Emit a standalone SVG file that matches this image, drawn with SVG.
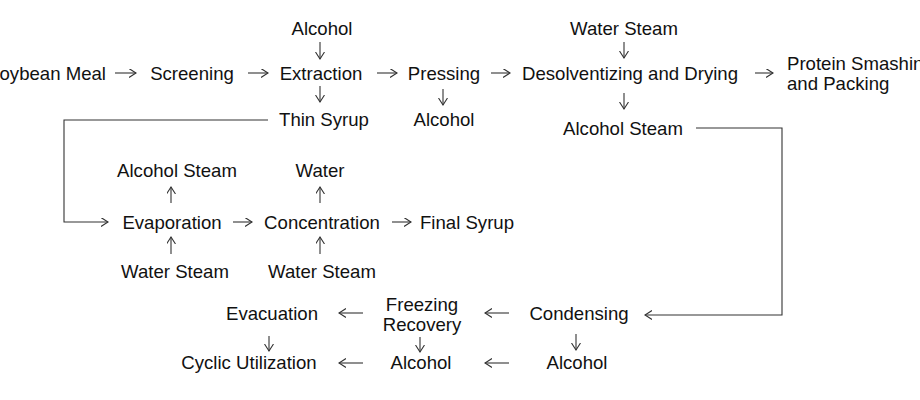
<svg xmlns="http://www.w3.org/2000/svg" width="920" height="400" viewBox="0 0 920 400">
<defs>
<style>
text{font-family:"Liberation Sans",Arial,sans-serif;font-size:18.6px;fill:#111}
.c text{text-anchor:middle}
.a line,.a polyline{stroke:#333;stroke-width:1.1;fill:none;marker-end:url(#ah)}
</style>
<marker id="ah" markerUnits="userSpaceOnUse" markerWidth="10" markerHeight="10" refX="7" refY="4.5" orient="auto" viewBox="0 0 10 10">
<path d="M0,0 L7,4.5 L0,9" fill="none" stroke="#333" stroke-width="1.1"/>
</marker>
</defs>
<rect width="920" height="400" fill="#fff"/>
<g class="c">
<g id="soybean"><text x="106" y="79.5" style="text-anchor:end">Soybean Meal</text></g>
<g id="screening"><text x="192" y="79.5">Screening</text></g>
<g id="extraction"><text x="321" y="79.5">Extraction</text></g>
<g id="alcohol1"><text x="322" y="34.5">Alcohol</text></g>
<g id="thinsyrup"><text x="324" y="126">Thin Syrup</text></g>
<g id="pressing"><text x="444" y="79.5">Pressing</text></g>
<g id="alcohol2"><text x="444" y="126">Alcohol</text></g>
<g id="desolv"><text x="630" y="79.5">Desolventizing and Drying</text></g>
<g id="watersteam1"><text x="624" y="34.5">Water Steam</text></g>
<g id="alcoholsteam1"><text x="623" y="134.5">Alcohol Steam</text></g>
<g id="protein"><text x="787" y="70" style="text-anchor:start">Protein Smashing</text><text x="787" y="90" style="text-anchor:start">and Packing</text></g>
<g id="evaporation"><text x="172" y="228.5">Evaporation</text></g>
<g id="alcoholsteam2"><text x="177" y="177">Alcohol Steam</text></g>
<g id="watersteam2"><text x="175" y="278">Water Steam</text></g>
<g id="concentration"><text x="322" y="228.5">Concentration</text></g>
<g id="water"><text x="320" y="177">Water</text></g>
<g id="watersteam3"><text x="322" y="278">Water Steam</text></g>
<g id="finalsyrup"><text x="467" y="228.5">Final Syrup</text></g>
<g id="evacuation"><text x="272" y="320">Evacuation</text></g>
<g id="freezing"><text x="422" y="311">Freezing</text><text x="422" y="330.5">Recovery</text></g>
<g id="condensing"><text x="579" y="320">Condensing</text></g>
<g id="cyclic"><text x="249" y="368.5">Cyclic Utilization</text></g>
<g id="alcohol3"><text x="421" y="368.5">Alcohol</text></g>
<g id="alcohol4"><text x="577" y="368.5">Alcohol</text></g>
</g>
<g id="connectors" class="a">
<line x1="115" y1="73" x2="136" y2="73"/>
<line x1="248" y1="73" x2="268" y2="73"/>
<line x1="377" y1="73" x2="397" y2="73"/>
<line x1="491" y1="73" x2="510" y2="73"/>
<line x1="755" y1="73" x2="773" y2="73"/>
<line x1="320" y1="42" x2="320" y2="59"/>
<line x1="320" y1="86" x2="320" y2="102"/>
<line x1="443" y1="89" x2="443" y2="105"/>
<line x1="624" y1="42" x2="624" y2="58"/>
<line x1="624" y1="93" x2="624" y2="109"/>
<polyline points="268,120 64,120 64,222 108,222"/>
<polyline points="696,128 782,128 782,315 645,315"/>
<line x1="171" y1="203" x2="171" y2="187"/>
<line x1="320" y1="203" x2="320" y2="187"/>
<line x1="171" y1="254" x2="171" y2="237"/>
<line x1="320" y1="254" x2="320" y2="237"/>
<line x1="233" y1="222" x2="252" y2="222"/>
<line x1="392" y1="222" x2="411" y2="222"/>
<line x1="363" y1="313" x2="339" y2="313"/>
<line x1="509" y1="313" x2="485" y2="313"/>
<line x1="269" y1="336" x2="269" y2="351"/>
<line x1="420" y1="337" x2="420" y2="352"/>
<line x1="576" y1="334" x2="576" y2="350"/>
<line x1="363" y1="363" x2="339" y2="363"/>
<line x1="509" y1="363" x2="485" y2="363"/>
</g>
</svg>
